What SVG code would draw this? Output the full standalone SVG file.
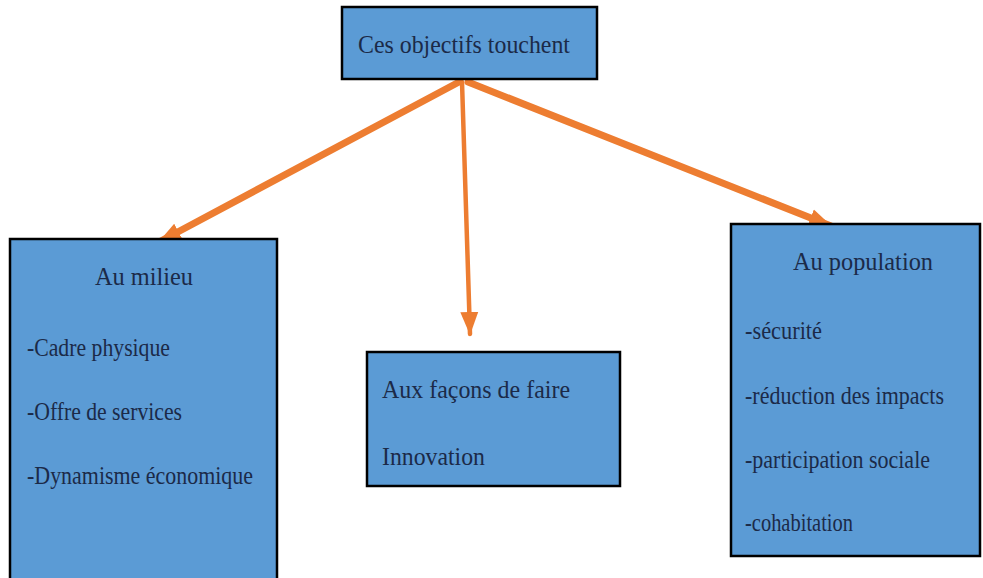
<svg xmlns="http://www.w3.org/2000/svg" width="983" height="578" viewBox="0 0 983 578">
<style>
.box{fill:#5b9bd5;stroke:#000;stroke-width:2.5}
.t{font-family:"Liberation Serif","Times New Roman",serif;font-size:25px;fill:#1b2a48}
.c{stroke:#ed7d31;fill:none;stroke-linecap:round}
</style>
<defs>
<marker id="ah" markerUnits="userSpaceOnUse" markerWidth="24" markerHeight="20" viewBox="0 0 24 20" refX="22" refY="10" orient="auto">
<path d="M0,1 L23,10 L0,19 Z" fill="#ed7d31"/>
</marker>
</defs>
<rect width="983" height="578" fill="#fff"/>
<g id="connectors">
<line class="c" x1="459" y1="82" x2="159" y2="242" stroke-width="7" marker-end="url(#ah)"/>
<line class="c" x1="462" y1="82" x2="470" y2="334" stroke-width="4.5" marker-end="url(#ah)"/>
<line class="c" x1="468" y1="82" x2="831" y2="226" stroke-width="7" marker-end="url(#ah)"/>
</g>
<g id="top">
<rect class="box" x="342" y="7" width="255" height="72"/>
<text class="t" x="358" y="53" textLength="212" lengthAdjust="spacingAndGlyphs">Ces objectifs touchent</text>
</g>
<g id="milieu">
<rect class="box" x="10" y="239" width="267" height="350"/>
<text class="t" x="95" y="285" textLength="98" lengthAdjust="spacingAndGlyphs">Au milieu</text>
<text class="t" x="27" y="356" textLength="143" lengthAdjust="spacingAndGlyphs">-Cadre physique</text>
<text class="t" x="27" y="420" textLength="155" lengthAdjust="spacingAndGlyphs">-Offre de services</text>
<text class="t" x="27" y="484" textLength="226" lengthAdjust="spacingAndGlyphs">-Dynamisme économique</text>
</g>
<g id="facons">
<rect class="box" x="367" y="352" width="253" height="134"/>
<text class="t" x="382" y="398" textLength="188" lengthAdjust="spacingAndGlyphs">Aux façons de faire</text>
<text class="t" x="382" y="465" textLength="103" lengthAdjust="spacingAndGlyphs">Innovation</text>
</g>
<g id="population">
<rect class="box" x="731" y="224" width="249" height="332"/>
<text class="t" x="793" y="270" textLength="140" lengthAdjust="spacingAndGlyphs">Au population</text>
<text class="t" x="745" y="339" textLength="77" lengthAdjust="spacingAndGlyphs">-sécurité</text>
<text class="t" x="745" y="404" textLength="199" lengthAdjust="spacingAndGlyphs">-réduction des impacts</text>
<text class="t" x="745" y="468" textLength="185" lengthAdjust="spacingAndGlyphs">-participation sociale</text>
<text class="t" x="745" y="531" textLength="108" lengthAdjust="spacingAndGlyphs">-cohabitation</text>
</g>
</svg>
